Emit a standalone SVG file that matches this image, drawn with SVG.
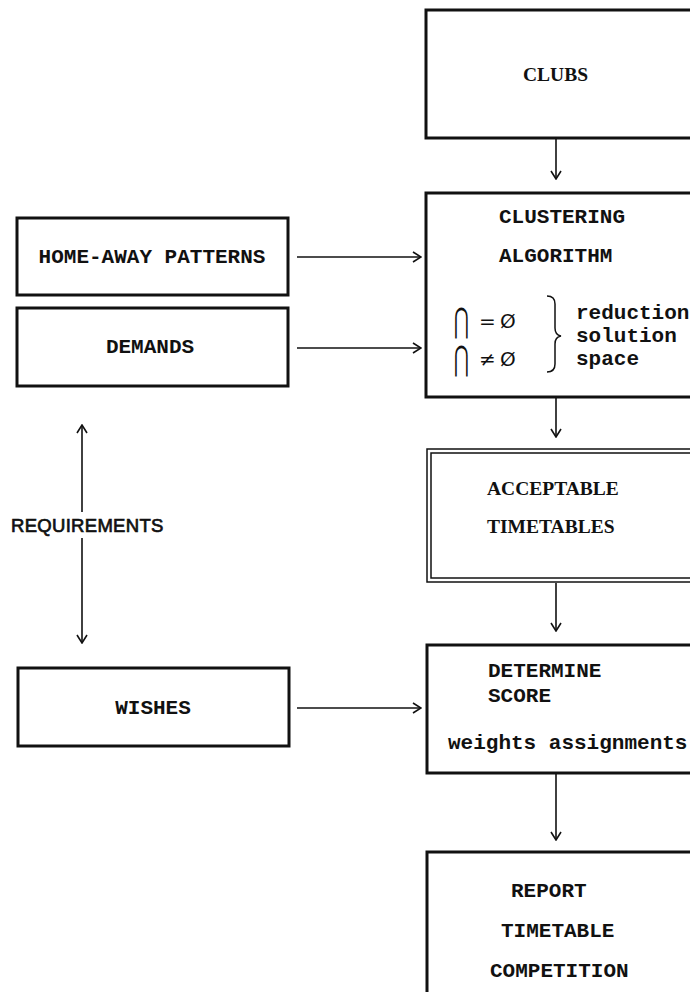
<svg xmlns="http://www.w3.org/2000/svg" width="690" height="992" viewBox="0 0 690 992">
<defs>
<marker id="ah" viewBox="0 0 12 12" refX="11" refY="6" markerWidth="12" markerHeight="12" markerUnits="userSpaceOnUse" orient="auto-start-reverse">
<path d="M3,1 L11,6 L3,11" fill="none" stroke="#111" stroke-width="1.6"/>
</marker>
<style>
.box{fill:#fff;stroke:#111;stroke-width:3}
.thin{fill:none;stroke:#111;stroke-width:1.5}
.con{fill:none;stroke:#111;stroke-width:1.6;marker-end:url(#ah)}
.mono{font-family:"Liberation Mono","DejaVu Sans Mono",monospace;font-weight:bold;font-size:21px;fill:#111}
.serif{font-family:"Liberation Serif","DejaVu Serif",serif;font-weight:bold;font-size:19.5px;fill:#111}
.sym{font-family:"DejaVu Sans",sans-serif;font-size:20px;fill:#111}
.req{font-family:"Liberation Sans","DejaVu Sans",sans-serif;font-size:18.5px;fill:#111;stroke:#111;stroke-width:0.7;letter-spacing:0.3px}
</style>
</defs>
<rect width="690" height="992" fill="#fff"/>
<g id="clubs">
<rect class="box" x="426" y="10" width="280" height="128"/>
<text class="serif" x="523" y="81">CLUBS</text>
</g>
<g id="clustering">
<rect class="box" x="426" y="193" width="280" height="204"/>
<text class="mono" x="499" y="223">CLUSTERING</text>
<text class="mono" x="499" y="262">ALGORITHM</text>
<text class="sym" font-size="24" transform="translate(454,332) scale(0.9,1.7)">⋂</text>
<text class="sym" x="479" y="328">=</text>
<text class="sym" x="500" y="328">Ø</text>
<text class="sym" font-size="24" transform="translate(454,370) scale(0.9,1.7)">⋂</text>
<text class="sym" x="479" y="366">≠</text>
<text class="sym" x="500" y="366">Ø</text>
<path class="thin" d="M547,296 Q555,296 555,304 L555,328 Q555,335 561,336 Q555,337 555,344 L555,364 Q555,372 547,372"/>
<text class="mono" x="576" y="319">reduction</text>
<text class="mono" x="576" y="342">solution</text>
<text class="mono" x="576" y="365">space</text>
</g>
<g id="home-away">
<rect class="box" x="17" y="218" width="271" height="77"/>
<text class="mono" x="152" y="263" text-anchor="middle">HOME-AWAY PATTERNS</text>
</g>
<g id="demands">
<rect class="box" x="17" y="308" width="271" height="78"/>
<text class="mono" x="150" y="353" text-anchor="middle">DEMANDS</text>
</g>
<g id="acceptable">
<rect class="thin" x="427" y="449" width="280" height="133"/>
<rect class="thin" x="431" y="453" width="280" height="125"/>
<text class="serif" x="487" y="495">ACCEPTABLE</text>
<text class="serif" x="487" y="533">TIMETABLES</text>
</g>
<g id="wishes">
<rect class="box" x="18" y="668" width="271" height="78"/>
<text class="mono" x="153" y="714" text-anchor="middle">WISHES</text>
</g>
<g id="determine">
<rect class="box" x="427" y="645" width="280" height="128"/>
<text class="mono" x="488" y="677">DETERMINE</text>
<text class="mono" x="488" y="702">SCORE</text>
<text class="mono" x="448" y="749">weights assignments</text>
</g>
<g id="report">
<rect class="box" x="427" y="852" width="280" height="160"/>
<text class="mono" x="511" y="897">REPORT</text>
<text class="mono" x="501" y="937">TIMETABLE</text>
<text class="mono" x="490" y="977">COMPETITION</text>
</g>
<g id="requirements">
<text class="req" x="11" y="532">REQUIREMENTS</text>
</g>
<g id="connectors">
<line class="con" x1="556" y1="139" x2="556" y2="179"/>
<line class="con" x1="297" y1="257" x2="421" y2="257"/>
<line class="con" x1="297" y1="348" x2="421" y2="348"/>
<line class="con" x1="556" y1="398" x2="556" y2="437"/>
<line class="con" x1="556" y1="583" x2="556" y2="631"/>
<line class="con" x1="297" y1="708" x2="421" y2="708"/>
<line class="con" x1="556" y1="774" x2="556" y2="840"/>
<line class="con" x1="82" y1="512" x2="82" y2="425"/>
<line class="con" x1="82" y1="538" x2="82" y2="643"/>
</g>
</svg>
